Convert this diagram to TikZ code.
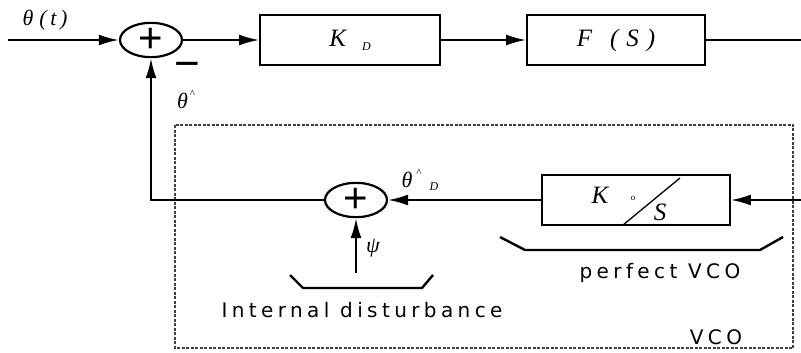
\documentclass[tikz,border=0pt]{standalone}
\usepackage{fontspec}
\setmainfont{Liberation Serif}
\newfontfamily\labelfont[LetterSpace=22]{DejaVu Sans}
\newfontfamily\signfont{Liberation Sans}
\usetikzlibrary{shapes.geometric, arrows.meta, positioning}
\tikzstyle{block}=[draw,fill=white,rectangle,line width=1.8pt,minimum height=50pt,font=\fontsize{25}{27}\selectfont\itshape]
\tikzstyle{sum}=[draw,ellipse,line width=2.2pt,minimum width=62pt,minimum height=29pt,inner sep=0pt,font=\signfont\fontsize{42}{42}\selectfont]
\tikzstyle{every node}=[font=\fontsize{22}{24}\selectfont\itshape]
\tikzstyle{tag}=[font=\labelfont\fontsize{20}{22}\selectfont]
\tikzstyle{bracket}=[line width=2.4pt]
\newcommand{\hatmark}{\raisebox{.5em}{\fontsize{11}{11}\selectfont\upshape\^{}}}
\newcommand{\lowsub}[1]{\raisebox{-.15em}{\fontsize{12}{12}\selectfont #1}}

\begin{document}
\begin{tikzpicture}[x=1pt,y=-1pt,>={Latex[length=20pt,width=11pt]},line width=2.2pt]
            \useasboundingbox (0,0) rectangle (801,353);
            % forward path
            \coordinate (Iinput) at (8,40);
            \node[sum, right of=Iinput, node distance=143pt] (sum1) {+};
            \node[block, minimum width=180pt, right of=sum1, node distance=199pt] (Kd) {K\hspace{16pt}\lowsub{D}};
            \node[block, minimum width=178pt, right of=Kd, node distance=266pt] (FS) {F\hspace{18pt}(\hspace{8pt}S\hspace{8pt})};
            \coordinate[right of=FS, node distance=185pt] (output);
            \node (thin) at (45,20) {θ\hspace{6pt}(\,t\,)};
            \node[font=\signfont\fontsize{44}{44}\selectfont] (minus) at (187,70) {−};
            \node (thhat) at (186,100) {θ\hspace{2pt}\hatmark};
            \draw[->] (Iinput) -- (sum1);
            \draw[->] (sum1) -- (Kd);
            \draw[->] (Kd) -- (FS);
            \draw (FS) -- (output);
            % VCO
            \draw[line width=1.5pt,black!75,dash pattern=on 3pt off 1.5pt] (175,125) rectangle (793,348);
            \node[sum] (sum2) at (356,200) {+};
            \node[block, minimum width=188pt] (Ko) at (636,200) {};
            \node[font=\fontsize{25}{27}\selectfont\itshape] (Kk) at ([shift={(-36,-5)}]Ko.center) {K};
            \node[font=\fontsize{9}{9}\selectfont\upshape] (Kz) at ([shift={(-3,-2)}]Ko.center) {o};
            \node[font=\fontsize{25}{27}\selectfont\itshape] (Ks) at ([shift={(24,12)}]Ko.center) {S};
            \draw[line width=1.3pt] ([shift={(-13,25)}]Ko.center) -- ([shift={(44,-22)}]Ko.center);
            \coordinate (vin) at (801,200);
            \coordinate (psi) at (356,273);
            \node (thd) at (420,180) {θ\hspace{4pt}\hatmark\hspace{8pt}\lowsub{D}};
            \node (psil) at (373,248) {ψ};
            \draw[->] (vin) -- (Ko);
            \draw[->] (Ko) -- (sum2);
            \draw[->] (sum2) -| (sum1);
            \draw[->] (psi) -- (sum2);
            % brackets and texts
            \draw[bracket] (290,275) -- (303,288) -- (422,288) -- (433,275);
            \draw[bracket] (500,237) -- (525,250) -- (760,250) -- (783,237);
            \node[tag] (idist) at (362,310) {Internal disturbance};
            \node[tag] (pvco) at (660,273) {perfect VCO};
            \node[tag] (vco) at (716,337) {VCO};
        \end{tikzpicture}
\end{document}
